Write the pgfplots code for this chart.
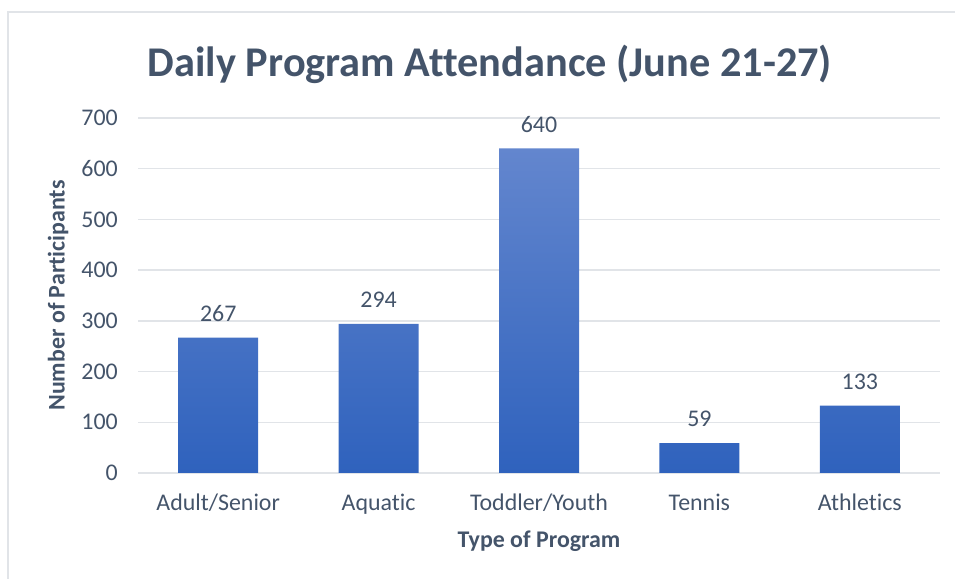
\documentclass[border=0pt]{standalone}
\usepackage{pgfplots}
\pgfplotsset{compat=1.18}
\usepackage{fontspec}
\setmainfont[Ligatures={NoCommon}]{Carlito}
\definecolor{txt}{HTML}{44546A}
\definecolor{gridc}{HTML}{E1E4E8}
\definecolor{bartop}{HTML}{6386CE}
\definecolor{barbot}{HTML}{2F62BD}
\begin{document}
\begin{tikzpicture}[x=1bp,y=1bp]
\path[use as bounding box] (0,0) rectangle (955,579);
\draw[gridc, line width=1.5bp] (8,0) -- (8,567) -- (955,567);
\begin{axis}[
  at={(138bp,106bp)}, anchor=south west,
  scale only axis, width=802bp, height=355bp,
  xmin=-0.5, xmax=4.5, ymin=0, ymax=700,
  ytick={0,100,...,700},
  xtick={0,1,2,3,4},
  xticklabels={Adult/Senior,Aquatic,Toddler/Youth,Tennis,Athletics},
  ymajorgrids, grid style={gridc, line width=1.3bp},
  axis line style={draw=none},
  major tick length=0pt,
  /pgf/number format/assume math mode=true,
  tick label style={font=\fontsize{24}{28}\selectfont, text=txt, inner sep=0pt},
  yticklabel style={anchor=east, xshift=-20bp},
  xticklabel style={anchor=north, yshift=-21bp},
  every axis y label/.style={at={(rel axis cs:0,0.5)}, xshift=-80bp, rotate=90, anchor=center, font=\bfseries\fontsize{24}{28}\selectfont, text=txt},
  every axis x label/.style={at={(rel axis cs:0.5,0)}, yshift=-68bp, anchor=center, font=\bfseries\fontsize{24}{28}\selectfont, text=txt},
  ylabel={Number of Participants},
  xlabel={Type of Program},
  nodes near coords,
  every node near coord/.append style={font=\fontsize{24}{28}\selectfont, text=txt, inner sep=0pt, anchor=south, yshift=16bp},
]
\addplot[ybar, bar width=80bp, draw=none, top color=bartop, bottom color=barbot] coordinates {
(0,267) (1,294) (2,640) (3,59) (4,133)
};
\end{axis}
\node[anchor=base, font=\bfseries\fontsize{42.5}{48}\selectfont, text=txt] at (490,502) {Daily Program Attendance (June 21-27)};
\end{tikzpicture}
\end{document}
